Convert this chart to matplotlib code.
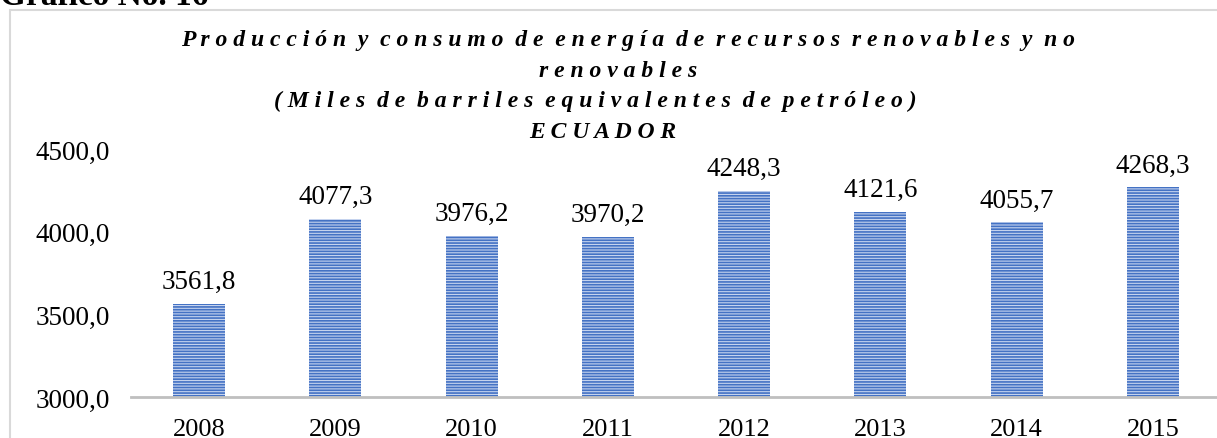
import matplotlib
matplotlib.use("Agg")
import matplotlib.pyplot as plt
from matplotlib.patches import Rectangle

years = ["2008", "2009", "2010", "2011", "2012", "2013", "2014", "2015"]
values = [3561.8, 4077.3, 3976.2, 3970.2, 4248.3, 4121.6, 4055.7, 4268.3]
yticks = [3000, 3500, 4000, 4500]
title_lines = [
    "Producción y consumo de energía de recursos renovables y no",
    "renovables",
    "(Miles de barriles equivalentes de petróleo)",
    "ECUADOR",
]
header = "Gráfico No. 16"


def spaced(s):
    # expanded character spacing, as in the original chart title
    return "  ".join(" ".join(word) for word in s.split(" "))


W, H = 1217, 439
fig = plt.figure(figsize=(W / 100, H / 100), dpi=100)
plt.rcParams['font.family'] = ['Liberation Serif', 'DejaVu Serif']
plt.rcParams['hatch.linewidth'] = 1.2

# outer chart border
fig.patches.append(Rectangle((10 / W, -0.1), 1.2, 1 - 11 / H + 0.1, transform=fig.transFigure,
                             fill=False, edgecolor='#D9D9D9', linewidth=1.5, clip_on=False))

fig.text(0 / W, 1 - 5 / H, header, fontsize=24, fontweight='bold', ha='left', va='baseline')

ax = fig.add_axes([131 / W, 1 - 398 / H, (1221 - 131) / W, (398 - 150) / H])
x = list(range(len(years)))
bars = ax.bar(x, values, width=0.38, bottom=0, color='#C5D3EE', edgecolor='#4472C4',
              hatch='------', linewidth=0, zorder=2)
ax.set_ylim(3000, 4500)
ax.set_xlim(-0.5, len(years) - 0.5)
ax.set_yticks(yticks)
ax.set_yticklabels([f"{v:.1f}".replace('.', ',') for v in yticks], fontsize=19.5)
ax.set_xticks(x)
ax.set_xticklabels(years, fontsize=19)
ax.tick_params(axis='y', length=0, pad=15)
ax.tick_params(axis='x', length=0, pad=15)
for s in ['top', 'right', 'left']:
    ax.spines[s].set_visible(False)
ax.spines['bottom'].set_color('#BFBFBF')
ax.spines['bottom'].set_linewidth(2)
ax.spines['bottom'].set_zorder(3)

for xi, v in zip(x, values):
    ax.annotate(f"{v:.1f}".replace('.', ','), (xi, v), xytext=(0, 7), textcoords='offset points',
                ha='center', va='bottom', fontsize=19.5)

baselines = [46, 77, 107, 138]
centers = [628, 618, 595, 603]
for line, yy, cx in zip(title_lines, baselines, centers):
    fig.text(cx / W, 1 - yy / H, spaced(line), fontsize=17, fontweight='bold', fontstyle='italic',
             ha='center', va='baseline')

fig.savefig("out.png", dpi=100)
